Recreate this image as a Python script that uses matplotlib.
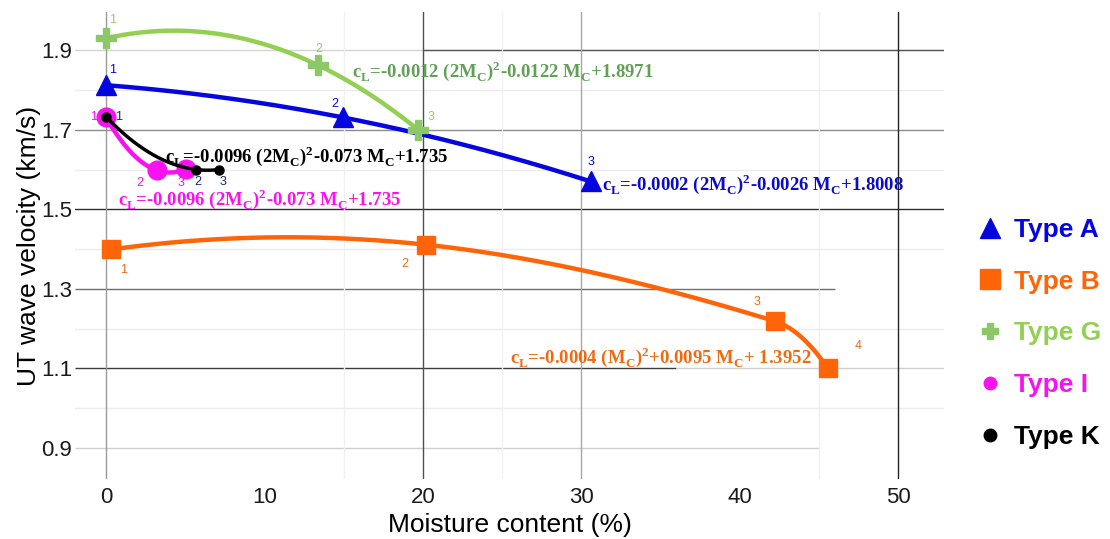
import numpy as np
import matplotlib.pyplot as plt
from matplotlib.lines import Line2D

plt.rcParams['font.family'] = ['Liberation Sans', 'DejaVu Sans']

# data
type_a_x = [0, 14.95, 30.6]
type_a_y = [1.812, 1.731, 1.570]
type_b_x = [0.3, 20.2, 42.2, 45.55]
type_b_y = [1.399, 1.411, 1.219, 1.101]
type_g_x = [0, 13.4, 19.7]
type_g_y = [1.930, 1.862, 1.700]
type_i_x = [0, 3.2, 5.05]
type_i_y = [1.731, 1.598, 1.602]
type_k_x = [0, 5.68, 7.14]
type_k_y = [1.733, 1.600, 1.600]

legend_labels = ['Type A', 'Type B', 'Type G', 'Type I', 'Type K']
x_ticks = [0, 10, 20, 30, 40, 50]
y_ticks = [0.9, 1.1, 1.3, 1.5, 1.7, 1.9]

eq_a = r'c$_\mathregular{L}$=-0.0002 (2M$_\mathregular{C}$)$^\mathregular{2}$-0.0026 M$_\mathregular{C}$+1.8008'
eq_b = r'c$_\mathregular{L}$=-0.0004 (M$_\mathregular{C}$)$^\mathregular{2}$+0.0095 M$_\mathregular{C}$+ 1.3952'
eq_g = r'c$_\mathregular{L}$=-0.0012 (2M$_\mathregular{C}$)$^\mathregular{2}$-0.0122 M$_\mathregular{C}$+1.8971'
eq_i = r'c$_\mathregular{L}$=-0.0096 (2M$_\mathregular{C}$)$^\mathregular{2}$-0.073 M$_\mathregular{C}$+1.735'
eq_k = eq_i

blue = '#0505e0'
orange = '#ff6508'
green = '#92cf52'
green_mk = '#8cc868'
magenta = '#f812f0'


def smooth(x, y, n=300):
    # quadratic through three points
    c = np.polyfit(x, y, len(x) - 1)
    xs = np.linspace(min(x), max(x), n)
    return xs, np.polyval(c, xs)


def hermite(x, y, n=100):
    # piecewise cubic through the points, quadratic-like end tangents
    x = np.asarray(x, float)
    y = np.asarray(y, float)
    sec = np.diff(y) / np.diff(x)
    m = np.zeros(len(x))
    m[1:-1] = (y[2:] - y[:-2]) / (x[2:] - x[:-2])
    m[0] = 2 * sec[0] - m[1]
    m[-1] = 2 * sec[-1] - m[-2]
    xs_all, ys_all = [], []
    for i in range(len(x) - 1):
        h = x[i + 1] - x[i]
        t = np.linspace(0, 1, n)
        h00 = 2 * t**3 - 3 * t**2 + 1
        h10 = t**3 - 2 * t**2 + t
        h01 = -2 * t**3 + 3 * t**2
        h11 = t**3 - t**2
        xs_all.append(x[i] + t * h)
        ys_all.append(h00 * y[i] + h10 * h * m[i] + h01 * y[i + 1] + h11 * h * m[i + 1])
    return np.concatenate(xs_all), np.concatenate(ys_all)


fig = plt.figure(figsize=(11.1, 5.39), dpi=100)
ax = fig.add_axes([0.0676, 0.1113, 0.7829, 0.8664])
ax.set_xlim(-1.96, 52.9)
ax.set_ylim(0.822, 1.996)

# grid (mixed shades, as in the source image)
for yv in [1.8, 1.6, 1.4, 1.2, 1.0]:
    ax.axhline(yv, color='#ececec', lw=1, zorder=0)
ax.axhline(1.9, color='#d4d4d4', lw=1, zorder=0)
ax.hlines(1.9, 20, 52.9, color='#555555', lw=1, zorder=0)
ax.axhline(1.7, color='#8c8c8c', lw=1, zorder=0)
ax.axhline(1.5, color='#2e2e2e', lw=1, zorder=0)
ax.hlines(1.3, -1.96, 46, color='#707070', lw=1, zorder=0)
ax.hlines(1.1, -1.96, 36, color='#3c3c3c', lw=1, zorder=0)
ax.hlines(1.1, 36, 52.9, color='#d0d0d0', lw=1, zorder=0)
ax.hlines(0.9, -1.96, 45, color='#cfcfcf', lw=1, zorder=0)
for xv, c in [(0, '#9a9a9a'), (15, '#f0f0f0'), (20, '#505050'), (25, '#f2f2f2'),
              (30, '#a8a8a8'), (45, '#f0f0f0'), (50, '#252525')]:
    ax.axvline(xv, color=c, lw=1, zorder=0)

for s in ax.spines.values():
    s.set_visible(False)
ax.set_xticks(x_ticks)
ax.set_yticks(y_ticks)
ax.set_yticklabels([f'{v:.1f}' for v in y_ticks])
ax.tick_params(length=0, labelsize=16, labelcolor='#1a1a1a')
ax.tick_params(axis='x', pad=6)
ax.tick_params(axis='y', pad=2)
ax.set_xlabel('Moisture content (%)', fontsize=19, labelpad=3)
ax.set_ylabel('UT wave velocity (km/s)', fontsize=19, labelpad=0)

# curves and markers
xs, ys = smooth(type_a_x, type_a_y)
ax.plot(xs, ys, color=blue, lw=3.2, zorder=3)
ax.plot(type_a_x, type_a_y, '^', color=blue, ms=15, zorder=4)

xs, ys = hermite(type_b_x, type_b_y)
ax.plot(xs, ys, color=orange, lw=3.2, zorder=3)
ax.plot(type_b_x, type_b_y, 's', color=orange, ms=13, zorder=4)

xs, ys = smooth(type_g_x, type_g_y)
ax.plot(xs, ys, color=green, lw=3.2, zorder=5)
ax.plot(type_g_x, type_g_y, 'P', color=green_mk, ms=15, zorder=6)

xs, ys = smooth(type_i_x, type_i_y)
ax.plot(xs, ys, color=magenta, lw=3.2, zorder=3)
ax.plot(type_i_x, type_i_y, 'o', color=magenta, ms=13.5, zorder=4)

xs, ys = smooth(type_k_x, type_k_y)
ax.plot(xs, ys, color='black', lw=2.5, zorder=5)
ax.plot(type_k_x, type_k_y, 'o', color='black', ms=6.5, zorder=6)

# point numbers (offsets in points)
num_specs = [
    (type_a_x, type_a_y, blue, [(5, 11), (-6, 10), (0, 14)]),
    (type_g_x, type_g_y, green, [(5, 13), (0, 12), (9, 9)]),
    (type_i_x, type_i_y, magenta, [(-9, 0), (-12, -9), (-4, -10)]),
    (type_k_x, type_k_y, '#1c2270', [(9, 0), (1, -9), (3, -9)]),
    (type_b_x, type_b_y, '#f06a20', [(9, -15), (-15, -14), (-13, 14), (22, 16)]),
]
for xv, yv, c, offs in num_specs:
    for i, (px, py) in enumerate(zip(xv, yv)):
        ax.annotate(str(i + 1), (px, py), xytext=offs[i], textcoords='offset points',
                    ha='center', va='center', fontsize=9, color=c, zorder=7)

# fitted equations
eq_font = dict(family='Liberation Serif', weight='bold', fontsize=13.5, va='baseline', ha='left', zorder=8)
ax.text(15.5, 1.832, eq_g, color='#62a058', **eq_font)
ax.text(3.72, 1.620, eq_k, color='black', **eq_font)
ax.text(0.76, 1.510, eq_i, color=magenta, **eq_font)
ax.text(31.3, 1.548, eq_a, color='#0c0cc8', **eq_font)
ax.text(25.5, 1.115, eq_b, color='#f06a10', **eq_font)

handles = [
    Line2D([], [], marker='^', ls='none', color=blue, ms=15),
    Line2D([], [], marker='s', ls='none', color=orange, ms=14),
    Line2D([], [], marker='P', ls='none', color=green_mk, ms=12),
    Line2D([], [], marker='o', ls='none', color=magenta, ms=9),
    Line2D([], [], marker='o', ls='none', color='black', ms=9),
]
fig.legend(handles, legend_labels, loc='upper left', bbox_to_anchor=(977 / 1110, 1 - 218 / 539),
           frameon=False, prop={'weight': 'bold', 'size': 19}, handlelength=1.0,
           handletextpad=0.42, borderpad=0, borderaxespad=0, labelspacing=1.05,
           labelcolor=[blue, orange, green, magenta, 'black'])

fig.savefig('out.png', dpi=100)
